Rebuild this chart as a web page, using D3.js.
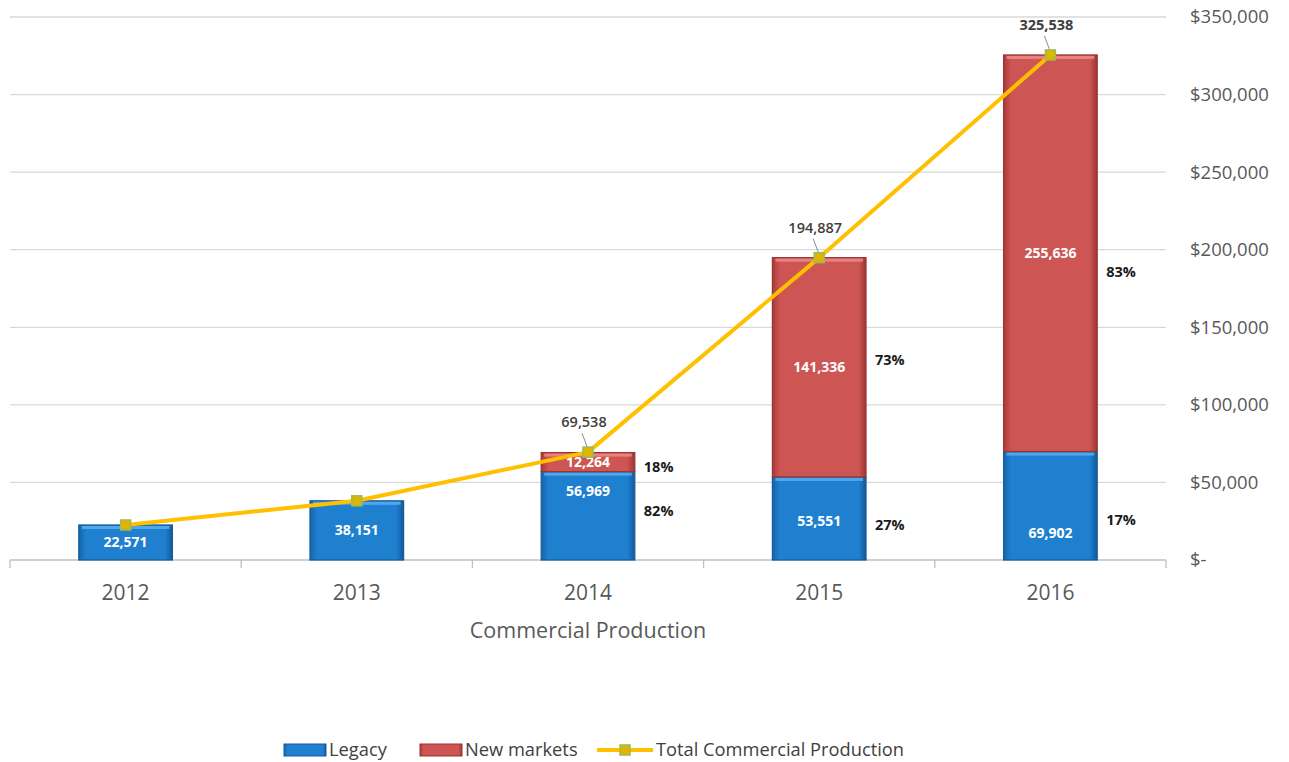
<!DOCTYPE html>
<html><head><meta charset="utf-8">
<script src="https://cdn.jsdelivr.net/npm/d3@7"></script>
<style>body{margin:0;background:#fff}svg{display:block;font-family:"Open Sans",sans-serif}</style>
</head><body><svg id="c" width="1289" height="762"></svg>
<script>
const years = ["2012","2013","2014","2015","2016"];
const legacy = [22571, 38151, 56969, 53551, 69902];
const newMarkets = [0, 0, 12264, 141336, 255636];
const totals = [22571, 38151, 69538, 194887, 325538];
const legacyPct = [null, null, "82%", "27%", "17%"];
const newPct = [null, null, "18%", "73%", "83%"];
const showTotal = [false, false, true, true, true];
const yTicks = [0, 50000, 100000, 150000, 200000, 250000, 300000, 350000];
const xTitle = "Commercial Production";
const seriesNames = ["Legacy", "New markets", "Total Commercial Production"];

// layout tweaks (label offsets in px relative to segment centre)
const legacyLabelDy = [0, 0, -25, 3, 27];
const legacyPctDy = [0, 0, -5, 6, 14];
const newPctDy = [0, 0, 5, -7, 19];

const svg = d3.select("#c");
const x = d3.scaleBand().domain(years).range([10, 1166]).paddingInner(0.595).paddingOuter(0.2975);
const y = d3.scaleLinear().domain([0, 350000]).range([560, 17]);

const defs = svg.append("defs");
function grad(id, c0, c1, c2) {
  const g = defs.append("linearGradient").attr("id", id).attr("x1", 0).attr("x2", 1).attr("y1", 0).attr("y2", 0);
  g.append("stop").attr("offset", "0%").attr("stop-color", c0);
  g.append("stop").attr("offset", "8%").attr("stop-color", c1);
  g.append("stop").attr("offset", "92%").attr("stop-color", c1);
  g.append("stop").attr("offset", "100%").attr("stop-color", c2);
}
grad("gb", "#1565a8", "#1f80d0", "#13599a");
grad("gr", "#a83a38", "#cd5553", "#9e3533");

// gridlines
svg.append("g").selectAll("line").data(yTicks.filter(d => d > 0)).join("line")
  .attr("x1", 10).attr("x2", 1166).attr("y1", d => y(d)).attr("y2", d => y(d))
  .attr("stroke", "#d9d9d9").attr("stroke-width", 1.3);

// right axis labels
const fmt = d3.format(",");
svg.append("g").selectAll("text").data(yTicks).join("text")
  .attr("x", 1190).attr("y", d => y(d)).attr("dy", "0.35em")
  .attr("font-size", 18.5).attr("fill", "#595959")
  .text(d => d === 0 ? "$-" : "$" + fmt(d));

// x axis
const axisG = svg.append("g");
axisG.append("line").attr("x1", 10).attr("x2", 1166).attr("y1", y(0)).attr("y2", y(0)).attr("stroke", "#bfbfbf").attr("stroke-width", 1.3);
const step = x.step();
const b0 = x(years[0]) + x.bandwidth() / 2 - step / 2;
axisG.selectAll("line.t").data(d3.range(years.length + 1)).join("line").attr("class", "t")
  .attr("x1", i => b0 + i * step).attr("x2", i => b0 + i * step).attr("y1", y(0)).attr("y2", y(0) + 8)
  .attr("stroke", "#bfbfbf").attr("stroke-width", 1.3);
axisG.selectAll("text").data(years).join("text")
  .attr("x", d => x(d) + x.bandwidth() / 2).attr("y", 600).attr("text-anchor", "middle")
  .attr("font-size", 21).attr("fill", "#595959").text(d => d);
svg.append("text").attr("x", x(years[2]) + x.bandwidth() / 2).attr("y", 638).attr("text-anchor", "middle")
  .attr("font-size", 21.5).attr("fill", "#595959").text(xTitle);

// bars
const bars = svg.append("g");
years.forEach((yr, i) => {
  const bx = x(yr), bw = x.bandwidth();
  const segs = [
    { v0: 0, v1: legacy[i], fill: "url(#gb)", stroke: "#145c99", hi: "#5aaef0" },
    { v0: legacy[i], v1: legacy[i] + newMarkets[i], fill: "url(#gr)", stroke: "#9a3432", hi: "#ea8c8a" }
  ];
  segs.forEach(s => {
    if (s.v1 <= s.v0) return;
    bars.append("rect").attr("x", bx).attr("y", y(s.v1)).attr("width", bw).attr("height", y(s.v0) - y(s.v1))
      .attr("fill", s.fill).attr("stroke", s.stroke).attr("stroke-width", 1.2);
    bars.append("rect").attr("x", bx + 3).attr("y", y(s.v1) + 1).attr("width", bw - 6).attr("height", 3)
      .attr("fill", s.hi).attr("opacity", 0.85);
  });
});

// value labels
const lab = svg.append("g").attr("font-weight", "bold");
years.forEach((yr, i) => {
  const cx = x(yr) + x.bandwidth() / 2;
  const lc = (y(0) + y(legacy[i])) / 2;
  lab.append("text").attr("x", cx).attr("y", lc + legacyLabelDy[i]).attr("dy", "0.35em").attr("text-anchor", "middle")
    .attr("font-size", 14).attr("fill", "#fff").text(fmt(legacy[i]));
  if (newMarkets[i] > 0) {
    const nc = (y(legacy[i]) + y(legacy[i] + newMarkets[i])) / 2;
    lab.append("text").attr("x", cx).attr("y", nc).attr("dy", "0.35em").attr("text-anchor", "middle")
      .attr("font-size", 14).attr("fill", "#fff").text(fmt(newMarkets[i]));
    lab.append("text").attr("x", x(yr) + x.bandwidth() + 9).attr("y", nc + newPctDy[i]).attr("dy", "0.35em")
      .attr("font-size", 14.5).attr("fill", "#1a1a1a").text(newPct[i]);
  }
  if (legacyPct[i]) {
    lab.append("text").attr("x", x(yr) + x.bandwidth() + 9).attr("y", lc + legacyPctDy[i]).attr("dy", "0.35em")
      .attr("font-size", 14.5).attr("fill", "#1a1a1a").text(legacyPct[i]);
  }
});

// total line
const cxs = years.map(d => x(d) + x.bandwidth() / 2);
const line = d3.line().x((d, i) => cxs[i]).y(d => y(d));
svg.append("path").datum(totals).attr("d", line).attr("fill", "none").attr("stroke", "#ffc000").attr("stroke-width", 4).attr("stroke-linejoin", "round");

// leader lines + total labels
const tl = svg.append("g");
totals.forEach((v, i) => {
  if (!showTotal[i]) return;
  const px = cxs[i], py = y(v);
  tl.append("line").attr("x1", px - 6).attr("y1", py - 19).attr("x2", px).attr("y2", py - 3).attr("stroke", "#8c8c8c").attr("stroke-width", 1);
  tl.append("text").attr("x", px - 4).attr("y", py - 25).attr("text-anchor", "middle")
    .attr("font-size", 14.5).attr("font-weight", i === 4 ? "bold" : 600).attr("fill", "#404040").text(fmt(v));
});

svg.append("g").selectAll("rect").data(totals).join("rect")
  .attr("x", (d, i) => cxs[i] - 5).attr("y", d => y(d) - 5).attr("width", 10).attr("height", 10)
  .attr("fill", "#e0b400").attr("stroke", "#9bbb59").attr("stroke-width", 1.5);

// legend
const lg = svg.append("g").attr("font-size", 18.3).attr("fill", "#404040");
const ly = 750;
lg.append("rect").attr("x", 284).attr("y", ly - 6).attr("width", 42).attr("height", 12).attr("fill", "url(#gb)").attr("stroke", "#145c99");
lg.append("text").attr("x", 329).attr("y", ly).attr("dy", "0.35em").text(seriesNames[0]);
lg.append("rect").attr("x", 420).attr("y", ly - 6).attr("width", 42).attr("height", 12).attr("fill", "url(#gr)").attr("stroke", "#9a3432");
lg.append("text").attr("x", 465).attr("y", ly).attr("dy", "0.35em").text(seriesNames[1]);
lg.append("line").attr("x1", 597).attr("x2", 653).attr("y1", ly).attr("y2", ly).attr("stroke", "#ffc000").attr("stroke-width", 4);
lg.append("rect").attr("x", 620).attr("y", ly - 5).attr("width", 10).attr("height", 10).attr("fill", "#e0b400").attr("stroke", "#9bbb59").attr("stroke-width", 1.5);
lg.append("text").attr("x", 656).attr("y", ly).attr("dy", "0.35em").text(seriesNames[2]);
</script></body></html>
